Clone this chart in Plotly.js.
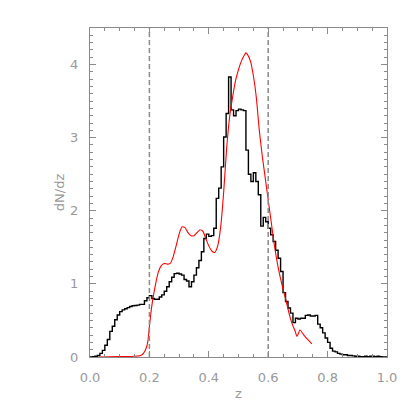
<!DOCTYPE html>
<html>
<head>
<meta charset="utf-8">
<script src="https://cdn.plot.ly/plotly-3.0.1.min.js"></script>
<style>
  html, body { margin: 0; padding: 0; background: #fff; }
  #plot { width: 415px; height: 415px; }
</style>
</head>
<body>
<div id="plot"></div>
<script>
// histogram: 120 bins between z = 0 and z = 1, heights
var binWidth = 1 / 120;
var histHeights = [
  0.00, 0.005, 0.01, 0.02, 0.05, 0.09, 0.16, 0.24, 0.35, 0.42,
  0.51, 0.575, 0.62, 0.645, 0.66, 0.675, 0.69, 0.70, 0.705, 0.71,
  0.72, 0.72, 0.77, 0.81, 0.84, 0.80, 0.79, 0.79, 0.82, 0.85,
  0.90, 0.96, 1.03, 1.09, 1.14, 1.145, 1.135, 1.12, 1.06, 1.04,
  0.96, 1.03, 1.12, 1.22, 1.32, 1.44, 1.62, 1.68, 1.65, 1.66,
  1.76, 2.17, 2.31, 2.60, 3.01, 3.33, 3.83, 3.38, 3.30, 3.37,
  3.39, 3.38, 3.37, 2.83, 2.50, 2.40, 2.52, 2.40, 2.22, 1.79,
  1.91, 1.85, 1.76, 1.67, 1.58, 1.46, 1.35, 1.17, 0.88, 0.76,
  0.67, 0.60, 0.47, 0.53, 0.52, 0.53, 0.53, 0.57, 0.575, 0.56,
  0.56, 0.57, 0.45, 0.40, 0.33, 0.26, 0.20, 0.12, 0.08, 0.07,
  0.05, 0.04, 0.03, 0.03, 0.02, 0.02, 0.015, 0.01, 0.01, 0.005,
  0.005, 0.01, 0.005, 0.01, 0.01, 0.005, 0.01, 0.005, 0.00, 0.00
];

// smooth model curve (red)
var modelZ = [
  0.03, 0.10, 0.15, 0.17, 0.18, 0.19, 0.195, 0.20, 0.205, 0.21,
  0.22, 0.23, 0.24, 0.25, 0.26, 0.27, 0.28, 0.29, 0.30, 0.31,
  0.32, 0.33, 0.34, 0.35, 0.36, 0.37, 0.38, 0.39, 0.40, 0.41,
  0.42, 0.43, 0.44, 0.45, 0.46, 0.47, 0.48, 0.49, 0.50, 0.51,
  0.52, 0.525, 0.53, 0.54, 0.55, 0.56, 0.57, 0.58, 0.59, 0.60,
  0.61, 0.62, 0.63, 0.64, 0.65, 0.66, 0.67, 0.68, 0.69, 0.697,
  0.707, 0.72, 0.735, 0.747
];
var modelN = [
  0.00, 0.005, 0.01, 0.02, 0.05, 0.13, 0.22, 0.42, 0.60, 0.75,
  0.98, 1.16, 1.25, 1.28, 1.27, 1.28, 1.37, 1.52, 1.68, 1.78,
  1.77, 1.70, 1.66, 1.66, 1.70, 1.74, 1.72, 1.62, 1.52, 1.45,
  1.43, 1.52, 1.78, 2.25, 2.85, 3.28, 3.55, 3.78, 3.93, 4.05,
  4.13, 4.16, 4.14, 4.05, 3.85, 3.55, 3.10, 2.75, 2.45, 2.15,
  1.85, 1.55, 1.30, 1.10, 0.93, 0.77, 0.60, 0.46, 0.36, 0.28,
  0.37, 0.30, 0.23, 0.18
];

// dashed cut lines
var cutZ = [0.2, 0.6];

var xTickVals = [0, 0.2, 0.4, 0.6, 0.8, 1.0];
var xTickText = ["0.0", "0.2", "0.4", "0.6", "0.8", "1.0"];
var yTickVals = [0, 1, 2, 3, 4];

// step outline from bin edges
var histX = [], histY = [];
for (var i = 0; i < histHeights.length; i++) {
  histX.push(i * binWidth);
  histY.push(histHeights[i]);
}
histX.push(histHeights.length * binWidth);
histY.push(histHeights[histHeights.length - 1]);

var hist = {
  x: histX,
  y: histY,
  mode: "lines",
  type: "scatter",
  line: { shape: "hv", color: "#000", width: 1.4 },
  hoverinfo: "skip"
};

var model = {
  x: modelZ,
  y: modelN,
  mode: "lines",
  type: "scatter",
  line: { shape: "spline", smoothing: 0.5, color: "#ff0000", width: 1.1 },
  hoverinfo: "skip"
};

var grey = "#8a8a8a";
var labelFont = { family: "DejaVu Sans", size: 13, color: "#999" };

var shapes = cutZ.map(function (z) {
  return {
    type: "line", xref: "x", yref: "paper",
    x0: z, x1: z, y0: 0, y1: 1,
    line: { color: grey, width: 1.5, dash: "5px,3px" }
  };
});

var axisCommon = {
  showgrid: false,
  zeroline: false,
  showline: true,
  linecolor: grey,
  linewidth: 1,
  mirror: "ticks",
  ticks: "inside",
  ticklen: 6,
  tickcolor: grey,
  tickfont: labelFont
};

var layout = {
  width: 415,
  height: 415,
  margin: { l: 90, r: 28, t: 28, b: 58 },
  paper_bgcolor: "#fff",
  plot_bgcolor: "#fff",
  showlegend: false,
  shapes: shapes,
  xaxis: Object.assign({}, axisCommon, {
    range: [0, 1],
    tickvals: xTickVals,
    ticktext: xTickText,
    ticklabelstandoff: 8,
    minor: { dtick: 0.05, ticks: "inside", ticklen: 3, tickcolor: grey },
    title: { text: "z", font: labelFont, standoff: 5 }
  }),
  yaxis: Object.assign({}, axisCommon, {
    range: [0, 4.5],
    tickvals: yTickVals,
    ticklabelstandoff: 8,
    minor: { dtick: 0.1, ticks: "inside", ticklen: 3, tickcolor: grey },
    title: { text: "dN/dz", font: labelFont, standoff: 2 }
  })
};

Plotly.newPlot("plot", [hist, model], layout, { staticPlot: true, displayModeBar: false });
</script>
</body>
</html>
